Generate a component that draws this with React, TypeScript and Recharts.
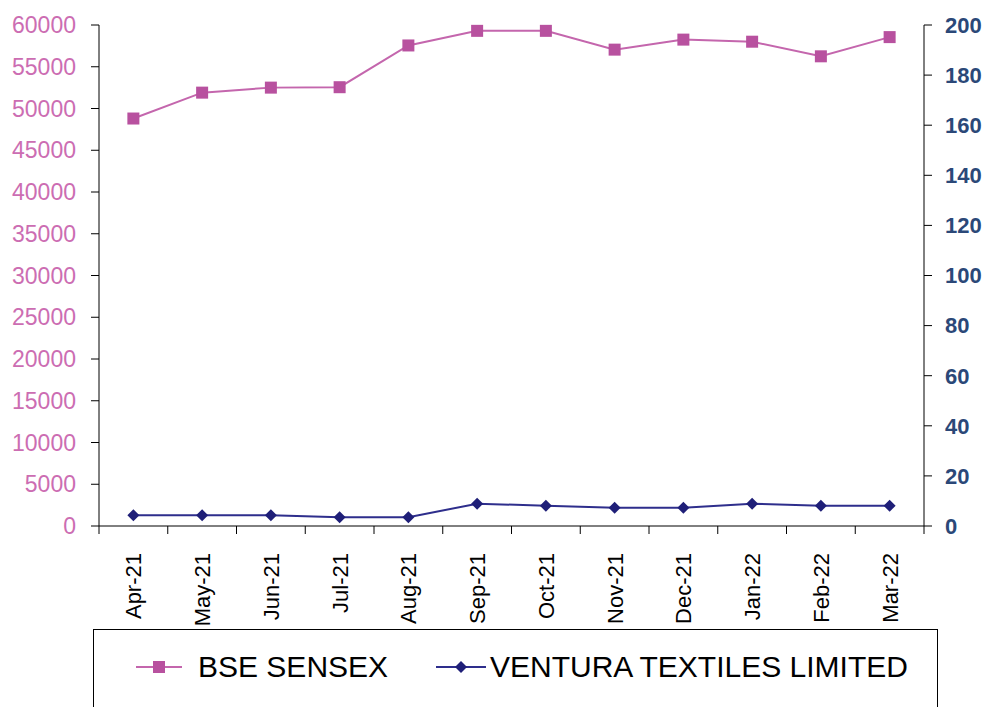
import React from "react";
import { LineChart, Line, XAxis, YAxis } from "recharts";

const MONTHS = ["Apr-21", "May-21", "Jun-21", "Jul-21", "Aug-21", "Sep-21", "Oct-21", "Nov-21", "Dec-21", "Jan-22", "Feb-22", "Mar-22"];
const SENSEX = [48800, 51900, 52500, 52550, 57550, 59300, 59300, 57050, 58250, 58000, 56250, 58550];
const VENTURA = [4.3, 4.3, 4.3, 3.5, 3.5, 8.9, 8.1, 7.3, 7.3, 8.9, 8.1, 8.1];
const LEFT_TICKS = [0, 5000, 10000, 15000, 20000, 25000, 30000, 35000, 40000, 45000, 50000, 55000, 60000];
const RIGHT_TICKS = [0, 20, 40, 60, 80, 100, 120, 140, 160, 180, 200];

const W = 989;
const H = 707;
const LEFT_W = 99;
const RIGHT_W = 65;
const PLOT_W = W - LEFT_W - RIGHT_W;
const STEP = PLOT_W / MONTHS.length;

const FONT = "'Liberation Sans', Arial, sans-serif";
const PINK = "#b8519f";
const PINK_LINE = "#c466ad";
const PINK_TEXT = "#cc6db2";
const NAVY = "#1f1f78";
const NAVY_LINE = "#2e2e8c";
const NAVY_TEXT = "#2b4878";

const data = MONTHS.map((m, i) => ({ month: m, sensex: SENSEX[i], ventura: VENTURA[i] }));

// month labels plus category boundary tick marks (Excel style)
const MonthTick = (props: any) => {
  const { x, y, payload, index } = props;
  const axisY = y - 27;
  return (
    <g>
      <line x1={x - STEP / 2} y1={axisY} x2={x - STEP / 2} y2={axisY + 8} stroke="#000" />
      {index === MONTHS.length - 1 && (
        <line x1={x + STEP / 2} y1={axisY} x2={x + STEP / 2} y2={axisY + 8} stroke="#000" />
      )}
      <g transform={`translate(${x},${y})`}>
        <text transform="rotate(-90)" x={0} y={0} dy="0.36em" textAnchor="end" fontSize={22} fill="#000" fontFamily={FONT}>
          {payload.value}
        </text>
      </g>
    </g>
  );
};

const Square = (props: any) => {
  const { cx, cy } = props;
  return <rect x={cx - 6} y={cy - 6} width={12} height={12} fill={PINK} />;
};

const Diamond = (props: any) => {
  const { cx, cy } = props;
  return <path d={`M${cx},${cy - 6}L${cx + 6},${cy}L${cx},${cy + 6}L${cx - 6},${cy}Z`} fill={NAVY} />;
};

export default function App() {
  return (
    <div style={{ position: "absolute", left: 0, top: 0, width: W, height: H, background: "#fff", overflow: "hidden" }}>
      <LineChart width={W} height={H} data={data} margin={{ top: 25, right: 0, left: 0, bottom: 81 }}>
        <XAxis
          dataKey="month"
          interval={0}
          height={100}
          padding={{ left: STEP / 2, right: STEP / 2 }}
          tickSize={8}
          tickMargin={19}
          tickLine={false}
          axisLine={{ stroke: "#000" }}
          tick={<MonthTick />}
        />
        <YAxis
          yAxisId="left"
          width={LEFT_W}
          domain={[0, 60000]}
          ticks={LEFT_TICKS}
          interval={0}
          tickSize={8}
          tickMargin={15}
          axisLine={{ stroke: "#000" }}
          tickLine={{ stroke: "#000" }}
          tick={{ fill: PINK_TEXT, fontSize: 23, fontFamily: FONT }}
        />
        <YAxis
          yAxisId="right"
          orientation="right"
          width={RIGHT_W}
          domain={[0, 200]}
          ticks={RIGHT_TICKS}
          interval={0}
          tickSize={8}
          tickMargin={13}
          axisLine={{ stroke: "#000" }}
          tickLine={{ stroke: "#000" }}
          tick={{ fill: NAVY_TEXT, fontSize: 22, fontWeight: "bold", fontFamily: FONT }}
        />
        <Line yAxisId="left" dataKey="sensex" stroke={PINK_LINE} strokeWidth={2} dot={<Square />} isAnimationActive={false} />
        <Line yAxisId="right" dataKey="ventura" stroke={NAVY_LINE} strokeWidth={2} dot={<Diamond />} isAnimationActive={false} />
      </LineChart>

      {/* legend box */}
      <div
        style={{
          position: "absolute",
          left: 93,
          top: 629,
          width: 843,
          height: 100,
          border: "1px solid #000",
          fontFamily: FONT,
          fontSize: 30,
          color: "#000",
        }}
      >
        <div style={{ position: "absolute", left: 42, top: 20, height: 34, display: "flex", alignItems: "center" }}>
          <svg width={46} height={16}>
            <line x1={0} y1={8} x2={46} y2={8} stroke={PINK_LINE} strokeWidth={2} />
            <rect x={17} y={2} width={12} height={12} fill={PINK} />
          </svg>
          <span style={{ marginLeft: 16 }}>BSE SENSEX</span>
        </div>
        <div style={{ position: "absolute", left: 342, top: 20, height: 34, display: "flex", alignItems: "center" }}>
          <svg width={50} height={16}>
            <line x1={0} y1={8} x2={50} y2={8} stroke={NAVY_LINE} strokeWidth={2} />
            <path d="M25,2L31,8L25,14L19,8Z" fill={NAVY} />
          </svg>
          <span style={{ marginLeft: 4 }}>VENTURA TEXTILES LIMITED</span>
        </div>
      </div>
    </div>
  );
}
